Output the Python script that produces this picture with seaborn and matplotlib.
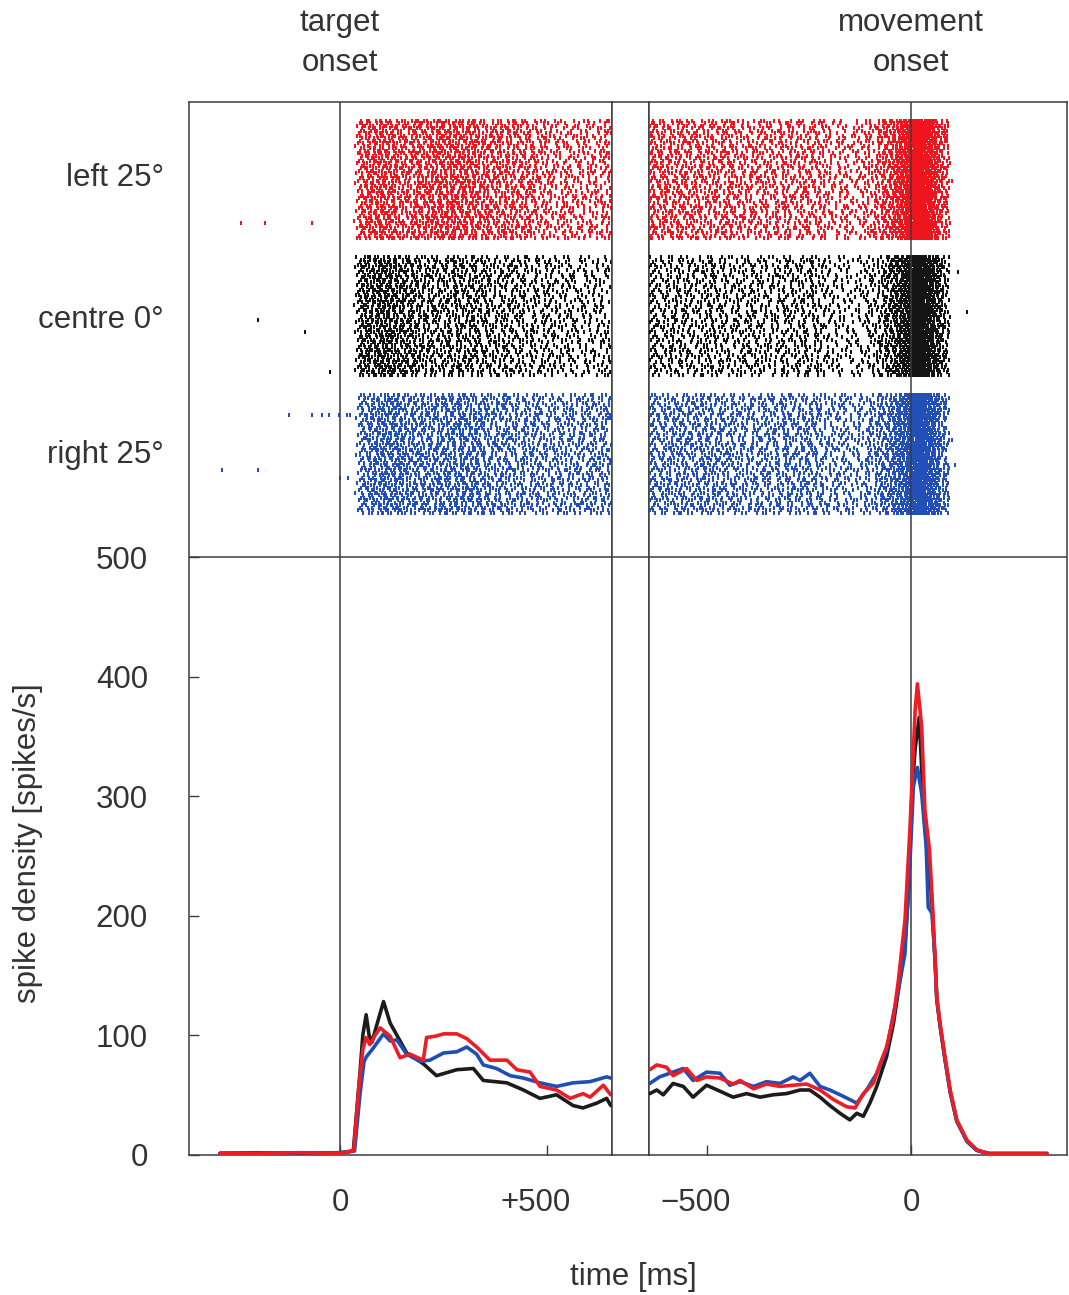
import numpy as np
import pandas as pd
import matplotlib
matplotlib.use("Agg")
import matplotlib.pyplot as plt
from matplotlib.transforms import ScaledTranslation
import seaborn as sns

# ---------------------------------------------------------------------------
# Conditions
# ---------------------------------------------------------------------------
conditions = ["left 25°", "centre 0°", "right 25°"]
colors = ["#ee1d25", "#1c1c1c", "#1f4fb4"]

# ---------------------------------------------------------------------------
# Spike density aligned on target onset (time in ms, rate in spikes/s)
# ---------------------------------------------------------------------------
tgt_time_left = [-290, -200, -100, 0, 33, 45, 55, 63, 72, 85, 97, 121, 145, 169,
                 201, 209, 230, 250, 282, 306, 330, 362, 403, 427, 459, 483, 523,
                 556, 587, 604, 636, 654]
tgt_rate_left = [1, 1, 1.5, 1, 3, 55, 88, 98, 92, 100, 106, 99, 81, 84,
                 79, 98, 99, 101, 101, 97, 90, 79, 79, 71, 69, 57, 54,
                 47, 51, 48, 58, 50]

tgt_time_centre = [-290, -200, -100, 0, 32, 48, 55, 63, 70, 77, 90, 105, 121, 137,
                   161, 201, 233, 282, 322, 346, 403, 443, 483, 523, 563, 587,
                   620, 644, 654]
tgt_rate_centre = [1, 1.5, 1, 1.5, 3, 68, 100, 117, 100, 94, 110, 128, 110, 100,
                   85, 76, 66, 71, 72, 62, 60, 54, 47, 50, 41, 39,
                   43, 47, 41]

tgt_time_right = [-290, -200, -100, 0, 35, 48, 58, 64, 80, 105, 121, 137, 161,
                  193, 217, 250, 282, 306, 330, 346, 378, 411, 443, 483, 523,
                  563, 604, 644, 654]
tgt_rate_right = [1, 1, 1.5, 1.5, 3, 50, 78, 82, 89, 101, 95, 96, 84,
                  78, 79, 85, 86, 90, 84, 75, 72, 66, 64, 60, 57,
                  60, 61, 65, 64]

# ---------------------------------------------------------------------------
# Spike density aligned on movement onset (time in ms, rate in spikes/s)
# ---------------------------------------------------------------------------
mov_time_left = [-640, -623, -599, -583, -550, -525, -501, -468, -436, -419, -386,
                 -354, -321, -289, -256, -223, -190, -158, -137, -117, -92, -76,
                 -60, -43, -31, -15, -2.5, 10, 15.5, 26, 34, 45, 51, 59, 63, 71,
                 83, 96, 112, 137, 161, 191, 250, 333]
mov_rate_left = [71, 75, 73, 66, 72, 62, 65, 64, 59, 62, 55,
                 59, 57, 58, 59, 54, 46, 40, 39, 51, 60, 76,
                 90, 115, 146, 196, 274, 372, 394, 358, 288, 255, 219, 163, 132, 110,
                 82, 54, 29, 12, 4, 0.5, 0.5, 0.5]

mov_time_centre = [-640, -623, -607, -583, -558, -534, -501, -468, -436, -403, -370,
                   -338, -305, -272, -248, -223, -199, -174, -150, -133, -117, -101,
                   -84, -60, -43, -30, -15, -6.5, 2, 10, 20, 30, 40, 45, 51, 59, 63,
                   71, 83, 96, 112, 137, 161, 191, 250, 333]
mov_rate_centre = [51, 54, 50, 59.5, 57, 48, 58, 53, 48, 51, 48,
                   50, 51, 54, 54, 48, 41, 34.5, 29, 34.5, 32, 43,
                   57, 82, 110, 140, 177, 219, 302, 340, 366, 294, 249, 240, 212, 160, 130,
                   108, 80, 52, 28, 11, 3.5, 1, 1, 1]

mov_time_right = [-640, -616, -583, -558, -534, -501, -468, -444, -419, -386, -354,
                  -321, -289, -272, -248, -223, -199, -174, -150, -133, -109, -84,
                  -60, -43, -30, -15, -2.5, 5.7, 15.5, 26, 37, 42, 51, 59, 63, 71,
                  83, 96, 112, 137, 161, 191]
mov_rate_right = [59.5, 65, 69, 72, 62, 69, 68, 58, 61, 57, 61,
                  59.5, 65, 62, 68, 57, 54, 50, 46, 43, 54, 68,
                  87.5, 118, 140, 168, 246, 308, 324, 302, 258, 207, 202, 163, 130, 108,
                  80, 52, 28, 11, 3.5, 0.5]

# Isolated spikes outside the main raster windows: (trial, time in ms)
tgt_stray_left = [(41, -239), (41, -181), (41, -68)]
tgt_stray_centre = [(25, -198), (30, -85), (46, -24)]
tgt_stray_right = [(8, -123), (8, -68), (8, -43), (8, -26), (8, -2), (8, 17), (8, 24),
                   (30, -286), (30, -199), (33, 0), (33, 19)]
mov_stray_left = [(24, 100)]
mov_stray_centre = [(6, 115), (22, 137)]
mov_stray_right = [(18, 100), (28, 108)]

n_trials = 48

# ---------------------------------------------------------------------------
# Layout (pixels of a 1069 x 1295 canvas)
# ---------------------------------------------------------------------------
W, H = 1069, 1295
sns.set_theme(style="white")
plt.rcParams["font.family"] = ["Liberation Sans", "DejaVu Sans"]
text_col = "#333333"
frame_col = "#3c3c3c"
FS = 22.5

fig = plt.figure(figsize=(W / 100, H / 100), dpi=100)


def box(x0, x1, y0, y1):
    return [x0 / W, 1 - y1 / H, (x1 - x0) / W, (y1 - y0) / H]


ax_t = fig.add_axes(box(189, 612, 102, 1155))
ax_g = fig.add_axes(box(612, 649, 102, 1155))
ax_m = fig.add_axes(box(649, 1067, 102, 1155))

Y_TOP = 881
for ax in (ax_t, ax_g, ax_m):
    ax.set_ylim(-0.4, Y_TOP)
    ax.set_facecolor("white")
    for s in ax.spines.values():
        s.set_color(frame_col)
        s.set_linewidth(1.1)
    ax.axhline(500, color=frame_col, lw=1.1, zorder=1)
ax_t.set_xlim(-365, 657)
ax_m.set_xlim(-642, 382)
ax_g.set_xticks([])
ax_g.set_yticks([])

# alignment lines at t = 0
for ax in (ax_t, ax_m):
    ax.axvline(0, color=frame_col, lw=1.1, zorder=4)

# ---------------------------------------------------------------------------
# Raster: ticks placed where each trial's cumulative rate reaches successive
# spike counts (inter-spike steps vary from trial to trial)
# ---------------------------------------------------------------------------
GOLD = (np.sqrt(5) - 1) / 2
row_tops = [865.5, 751.0, 635.5]
row_step = 98.5 / (n_trials - 1)


def trial_spikes(t_k, r_k, t0, t1, trial, cond):
    grid = np.arange(t0, t1, 0.25)
    rate = np.interp(grid, t_k, r_k)
    cum = np.concatenate([[0.0], np.cumsum(rate[:-1] * 0.25 / 1000.0)])
    level = ((trial + 1) * np.sqrt(3) + cond * 0.37) % 1.0
    out = []
    n = 0
    while level < cum[-1]:
        out.append(np.interp(level, cum, grid))
        n += 1
        level += 0.3 + 1.4 * ((n * GOLD + trial * np.sqrt(2) + cond * np.sqrt(5)) % 1.0)
    return out


tgt_sets = [(tgt_time_left, tgt_rate_left, tgt_stray_left),
            (tgt_time_centre, tgt_rate_centre, tgt_stray_centre),
            (tgt_time_right, tgt_rate_right, tgt_stray_right)]
mov_sets = [(mov_time_left, mov_rate_left, mov_stray_left),
            (mov_time_centre, mov_rate_centre, mov_stray_centre),
            (mov_time_right, mov_rate_right, mov_stray_right)]

raster_colors = ["#f0141e", "#141414", "#2350b8"]
for ax, sets, (t0, t1) in ((ax_t, tgt_sets, (30, 655)),
                           (ax_m, mov_sets, (-642, 95))):
    for ci, (tk, rk, stray) in enumerate(sets):
        xs, ys = [], []
        for k in range(n_trials):
            sp = trial_spikes(tk, rk, t0, t1, k, ci)
            xs += sp
            ys += [row_tops[ci] - k * row_step] * len(sp)
        for k, t in stray:
            xs.append(t)
            ys.append(row_tops[ci] - k * row_step)
        df = pd.DataFrame({"time": xs, "row": ys})
        sns.scatterplot(data=df, x="time", y="row", ax=ax, marker="|", s=6.5,
                        linewidth=1.45, color=raster_colors[ci], legend=False,
                        zorder=3)

# ---------------------------------------------------------------------------
# Spike density curves
# ---------------------------------------------------------------------------
draw_order = [1, 2, 0]
for ax, sets in ((ax_t, tgt_sets), (ax_m, mov_sets)):
    for ci in draw_order:
        tk, rk, _ = sets[ci]
        sns.lineplot(x=tk, y=rk, ax=ax, color=colors[ci], lw=2.6, zorder=5,
                     legend=False)
    ax.set_xlabel("")
    ax.set_ylabel("")

# ---------------------------------------------------------------------------
# Ticks and labels
# ---------------------------------------------------------------------------
tick_kw = dict(direction="in", length=7.5, width=1.0, color=frame_col,
               labelsize=FS, labelcolor=text_col)
ax_t.set_yticks([0, 100, 200, 300, 400, 500])
ax_t.set_yticklabels(["0", "100", "200", "300", "400", "500"])
ax_t.tick_params(axis="y", left=True, right=False, pad=29.5, **tick_kw)
ax_m.set_yticks([])
ax_t.set_xticks([0, 500])
ax_t.set_xticklabels(["0", "+500"])
ax_m.set_xticks([-500, 0])
ax_m.set_xticklabels(["\u2212500", "0"])
for ax in (ax_t, ax_m):
    ax.tick_params(axis="x", bottom=True, top=False, pad=23.5, **tick_kw)

# signed labels sit with their digits over the tick
for lab in (ax_t.get_xticklabels()[1], ax_m.get_xticklabels()[0]):
    lab.set_transform(lab.get_transform() + ScaledTranslation(-0.11, 0, fig.dpi_scale_trans))

# condition labels beside the raster
for name, ypx in zip(conditions, [178, 320, 455]):
    fig.text(164 / W, 1 - ypx / H, name, ha="right", va="center",
             fontsize=FS, color=text_col)

fig.text(340 / W, 1 - 43 / H, "target\nonset", ha="center", va="center",
         fontsize=FS, color=text_col, linespacing=1.42)
fig.text(911 / W, 1 - 43 / H, "movement\nonset", ha="center", va="center",
         fontsize=FS, color=text_col, linespacing=1.42)

fig.text(28 / W, 1 - 843 / H, "spike density [spikes/s]", rotation=90,
         ha="center", va="center", fontsize=FS, color=text_col)
fig.text(633 / W, 1 - 1277 / H, "time [ms]", ha="center", va="center",
         fontsize=FS, color=text_col)

fig.savefig("out.png", dpi=100, facecolor="white")
